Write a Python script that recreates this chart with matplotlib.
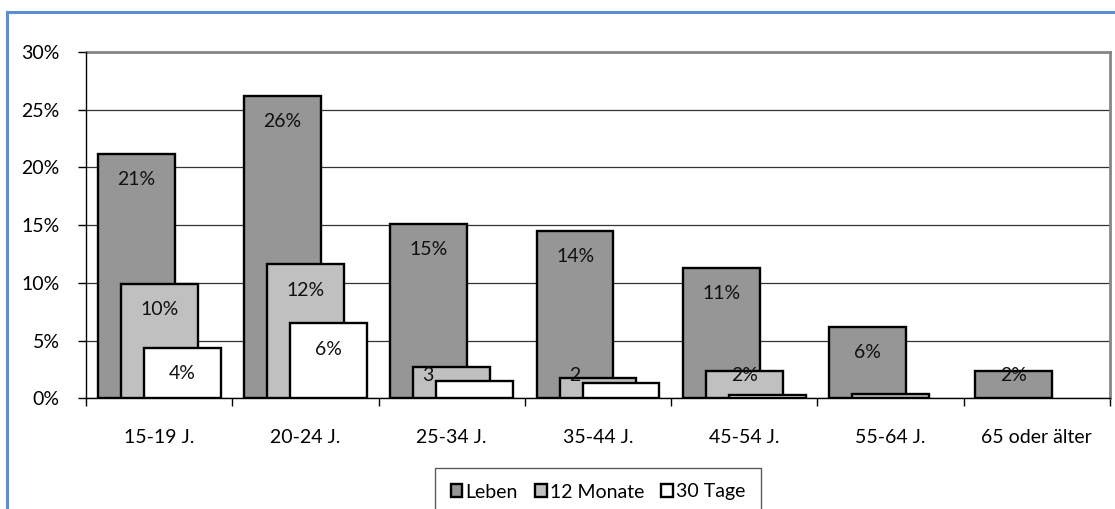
import matplotlib.pyplot as plt
import numpy as np
from matplotlib.patches import Rectangle, Patch
from matplotlib.ticker import FixedLocator, PercentFormatter

plt.rcParams["font.family"] = ["Lato", "DejaVu Sans"]

categories = ["15-19 J.", "20-24 J.", "25-34 J.", "35-44 J.", "45-54 J.", "55-64 J.", "65 oder älter"]
series_names = ["Leben", "12 Monate", "30 Tage"]
leben = [21.2, 26.2, 15.1, 14.5, 11.3, 6.2, 2.4]
monate12 = [9.9, 11.6, 2.7, 1.8, 2.4, 0.35, 0.0]
tage30 = [4.4, 6.5, 1.5, 1.3, 0.26, 0.0, 0.0]
# value labels as they appear in the original (partly covered ones are cut short)
leben_labels = ["21%", "26%", "15%", "14%", "11%", "6%", "2%"]
monate12_labels = ["10%", "12%", "3", "2", "2%", "", ""]
tage30_labels = ["4%", "6%", "", "", "", "", ""]
y_ticks = [0, 5, 10, 15, 20, 25, 30]

colors = ["#969696", "#c0c0c0", "#ffffff"]
values = [leben, monate12, tage30]
labels = [leben_labels, monate12_labels, tage30_labels]

fig = plt.figure(figsize=(11.15, 5.09), dpi=100)
ax = fig.add_axes([86 / 1115, 1 - 398.3 / 509, (1110 - 86) / 1115, (398.3 - 52) / 509])

x = np.arange(len(categories))
width = 0.525
shift = 0.157
for k, (vals, col) in enumerate(zip(values, colors)):
    pos = x + (k - 1) * shift
    vals = np.array(vals)
    keep = vals > 0
    ax.bar(pos[keep], vals[keep], width=width, color=col, edgecolor="black", linewidth=1.7,
           zorder=2 + 2 * k)
    for p, v, lab in zip(pos, vals, labels[k]):
        if not lab:
            continue
        dx = 0 if lab.endswith("%") else -0.16
        ax.text(p + dx, max(v - 2.25, 2.0), lab, ha="center", va="center",
                fontsize=14, color="#111111", zorder=3 + 2 * k)

ax.set_xlim(-0.5, len(categories) - 0.5)
ax.set_ylim(0, 30)
ax.set_yticks(y_ticks)
ax.yaxis.set_major_formatter(PercentFormatter(decimals=0))
ax.set_xticks(x)
ax.set_xticklabels(categories, fontsize=14)
ax.xaxis.set_minor_locator(FixedLocator(np.arange(len(categories) + 1) - 0.5))
ax.tick_params(axis="x", which="major", length=0, pad=22)
ax.tick_params(axis="x", which="minor", length=6, width=1, color="black", direction="out")
ax.tick_params(axis="y", length=6, width=1, color="black", pad=13, labelsize=14)

ax.grid(axis="y", color="#333333", linewidth=0.9, zorder=0)
ax.set_axisbelow(True)
for side in ["left", "bottom"]:
    ax.spines[side].set_color("black")
    ax.spines[side].set_linewidth(1)
    ax.spines[side].set_zorder(20)
for side in ["top", "right"]:
    ax.spines[side].set_color("#868686")
    ax.spines[side].set_linewidth(2)

handles = [Patch(facecolor=c, edgecolor="black", linewidth=1.7) for c in colors]
leg = fig.legend(handles, series_names, loc="center", bbox_to_anchor=(598 / 1115, 1 - 492 / 509),
                 ncol=3, frameon=True, fontsize=14, handlelength=0.6, handleheight=0.6,
                 handletextpad=0.15, columnspacing=0.9, borderpad=0.8, borderaxespad=0,
                 fancybox=False)
leg.get_frame().set_edgecolor("#333333")
leg.get_frame().set_linewidth(1)

# outer chart frame (Excel style)
fig.patches.append(Rectangle((7 / 1115, -0.1), 1.2, 1 - 12 / 509 + 0.1, transform=fig.transFigure,
                             fill=False, edgecolor="#5b8fd6", linewidth=2.2, zorder=0))

fig.savefig("out.png", dpi=100)
